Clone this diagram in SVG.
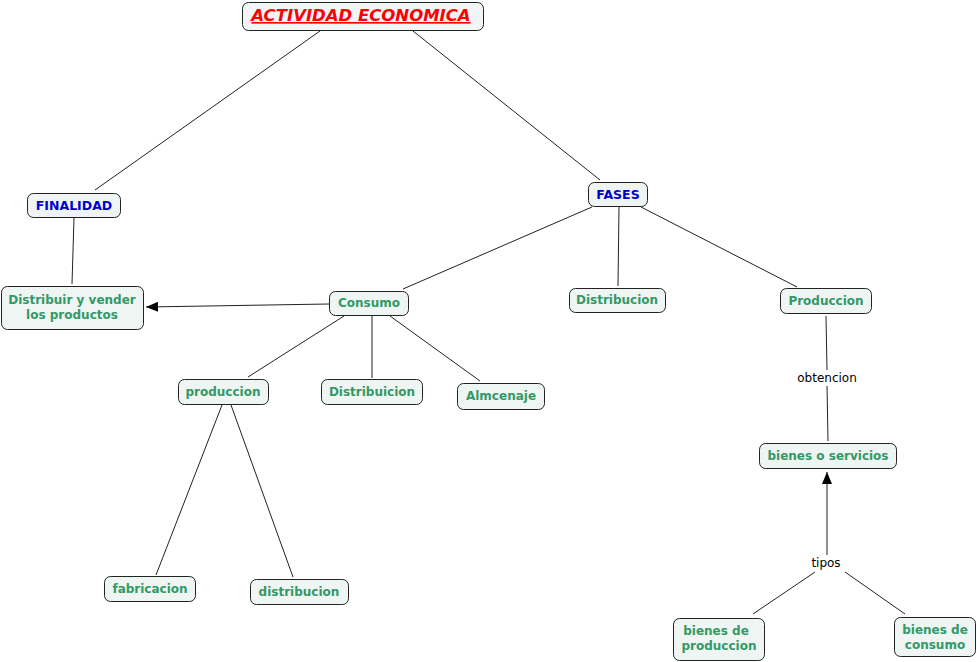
<svg xmlns="http://www.w3.org/2000/svg" width="977" height="662" viewBox="0 0 977 662">
<style>
.n rect{fill:#EEF5F3;stroke:#222;stroke-width:1}
.n text{font-family:"DejaVu Sans",Verdana,sans-serif;font-weight:bold;font-size:12px;fill:#339966;text-anchor:middle}
.n text.b{fill:#0000CC;font-size:12.5px}
.t rect{fill:#F2F5F5}
.t text{fill:#FF0000;font-size:16.5px;font-style:italic;text-decoration:underline}
.e line{stroke:#222;stroke-width:1}
.lbl{font-family:"DejaVu Sans",Verdana,sans-serif;font-size:12px;fill:#000;text-anchor:middle}
</style>
<defs>
<marker id="ah" viewBox="0 0 12 10" refX="12" refY="5" markerWidth="12" markerHeight="10" markerUnits="userSpaceOnUse" orient="auto">
<path d="M0,0 L12,5 L0,10 Z" fill="#000"/>
</marker>
</defs>
<rect width="977" height="662" fill="#fff"/>
<g class="e" id="connectors">
<line x1="320" y1="31" x2="95" y2="190"/>
<line x1="413" y1="31" x2="600" y2="180"/>
<line x1="74" y1="218" x2="72" y2="284"/>
<line x1="592" y1="207" x2="403" y2="289"/>
<line x1="619" y1="207" x2="618" y2="286"/>
<line x1="641" y1="207" x2="797" y2="287"/>
<line x1="329" y1="304" x2="146" y2="307" marker-end="url(#ah)"/>
<line x1="344" y1="316" x2="248" y2="377"/>
<line x1="372" y1="316" x2="372" y2="378"/>
<line x1="390" y1="316" x2="480" y2="381"/>
<line x1="222" y1="405" x2="156" y2="575"/>
<line x1="231" y1="405" x2="293" y2="577"/>
<line x1="826" y1="316" x2="827" y2="370"/>
<line x1="827" y1="386" x2="828" y2="441"/>
<line x1="753" y1="614" x2="815" y2="572"/>
<line x1="905" y1="614" x2="845" y2="572"/>
<line x1="827" y1="555" x2="827" y2="472" marker-end="url(#ah)"/>
<text class="lbl" x="827" y="382">obtencion</text>
<text class="lbl" x="826" y="567">tipos</text>
</g>
<g class="n t" id="title"><rect x="242.5" y="2.5" width="241" height="28" rx="6"/><text x="361" y="21">ACTIVIDAD ECONOMICA</text></g>
<g class="n" id="finalidad"><rect x="27.5" y="193.5" width="93" height="24" rx="6"/><text class="b" x="74" y="210">FINALIDAD</text></g>
<g class="n" id="distribuir"><rect x="1.5" y="286.5" width="142" height="43" rx="6"/><text x="72" y="304">Distribuir y vender</text><text x="72" y="319">los productos</text></g>
<g class="n" id="fases"><rect x="588.5" y="182.5" width="59" height="24" rx="6"/><text class="b" x="618" y="199">FASES</text></g>
<g class="n" id="consumo"><rect x="329.5" y="291.5" width="79" height="24" rx="6"/><text x="369" y="307">Consumo</text></g>
<g class="n" id="distribucion1"><rect x="569.5" y="288.5" width="96" height="24" rx="6"/><text x="617" y="304">Distribucion</text></g>
<g class="n" id="produccion1"><rect x="780.5" y="288.5" width="91" height="25" rx="6"/><text x="826" y="305">Produccion</text></g>
<g class="n" id="produccion2"><rect x="178.5" y="379.5" width="90" height="25" rx="6"/><text x="223" y="396">produccion</text></g>
<g class="n" id="distribuicion"><rect x="321.5" y="379.5" width="101" height="25" rx="6"/><text x="372" y="396">Distribuicion</text></g>
<g class="n" id="almcenaje"><rect x="457.5" y="383.5" width="87" height="26" rx="6"/><text x="501" y="400">Almcenaje</text></g>
<g class="n" id="bienes"><rect x="759.5" y="443.5" width="137" height="25" rx="6"/><text x="828" y="460">bienes o servicios</text></g>
<g class="n" id="fabricacion"><rect x="104.5" y="576.5" width="91" height="25" rx="6"/><text x="150" y="593">fabricacion</text></g>
<g class="n" id="distribucion2"><rect x="250.5" y="579.5" width="98" height="25" rx="6"/><text x="299" y="596">distribucion</text></g>
<g class="n" id="bprod"><rect x="673.5" y="618.5" width="91" height="42" rx="6"/><text x="716" y="635">bienes de</text><text x="719" y="650">produccion</text></g>
<g class="n" id="bcons"><rect x="894.5" y="617.5" width="81" height="39" rx="6"/><text x="935" y="634">bienes de</text><text x="935" y="649">consumo</text></g>
</svg>
